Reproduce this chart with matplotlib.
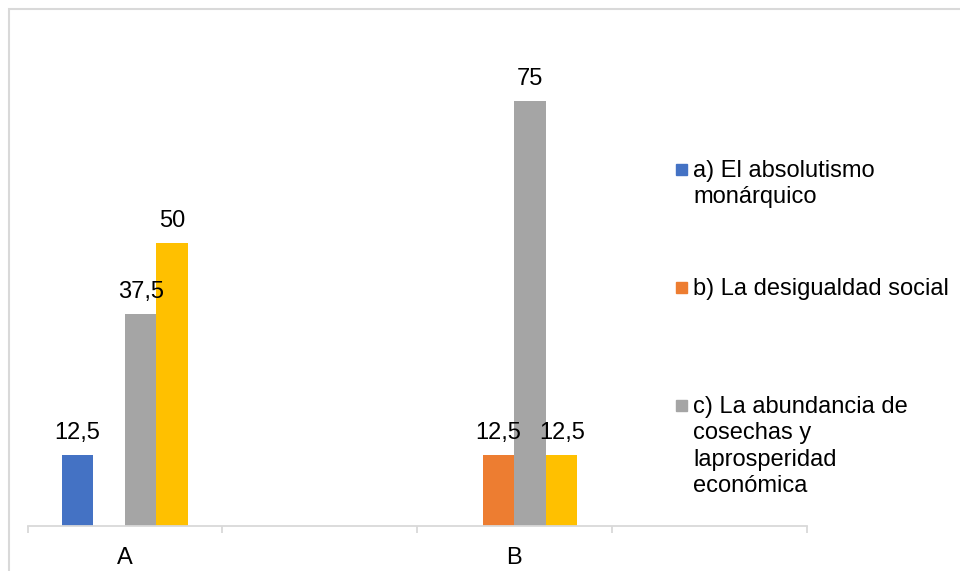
import matplotlib.pyplot as plt
from matplotlib.patches import Rectangle
import numpy as np

plt.rcParams['font.family'] = ['Liberation Sans', 'DejaVu Sans']

# Data
categories = ["A", "", "B", ""]
series_names = [
    "a) El absolutismo\nmonárquico",
    "b) La desigualdad social",
    "c) La abundancia de\ncosechas y\nlaprosperidad\neconómica",
    "_d",
]
values_a = [12.5, 0, 0, 0]
values_b = [0, 0, 12.5, 0]
values_c = [37.5, 0, 75, 0]
values_d = [50, 0, 12.5, 0]
colors = ["#4472C4", "#ED7D31", "#A5A5A5", "#FFC000"]

all_values = [values_a, values_b, values_c, values_d]

fig = plt.figure(figsize=(9.6, 5.71), dpi=100)
ax = fig.add_axes([27.5 / 960, 1 - 526 / 571, (806.5 - 27.5) / 960, (526 - 73) / 571])

x = np.arange(len(categories))
w = 0.162
for i, vals in enumerate(all_values):
    bars = ax.bar(x + (i - 1.5) * w, vals, width=w, color=colors[i], zorder=2)
    labels = [f"{v:g}".replace(".", ",") if v > 0 else "" for v in vals]
    ax.bar_label(bars, labels=labels, padding=8, fontsize=17, color="black")

ax.set_xlim(-0.5, len(categories) - 0.5)
ax.set_ylim(0, 80)
ax.set_yticks([])
for side in ["top", "right", "left"]:
    ax.spines[side].set_visible(False)
ax.spines["bottom"].set_color("#D9D9D9")
ax.spines["bottom"].set_linewidth(1.3)

ax.set_xticks(x)
ax.set_xticklabels(categories, fontsize=17)
ax.tick_params(axis="x", which="major", length=0, pad=15)
ax.set_xticks(np.arange(len(categories) + 1) - 0.5, minor=True)
ax.tick_params(axis="x", which="minor", length=5, width=1.3, color="#D9D9D9")

# Legend (only the first three series are shown in the original)
legend_y = [169, 287, 405]
for i in range(3):
    yc = 1 - legend_y[i] / 571
    fig.add_artist(Rectangle((676 / 960, yc - 5.5 / 571), 11 / 960, 11 / 571,
                             transform=fig.transFigure, color=colors[i]))
    fig.text(693 / 960, yc + 9 / 571, series_names[i], fontsize=17, va="top",
             ha="left", linespacing=1.26)

# Chart border
fig.add_artist(Rectangle((9 / 960, -0.05), 1.1, 1.05 - 9 / 571, transform=fig.transFigure,
                         fill=False, edgecolor="#D9D9D9", linewidth=1.5))

plt.savefig("out.png", dpi=100)
